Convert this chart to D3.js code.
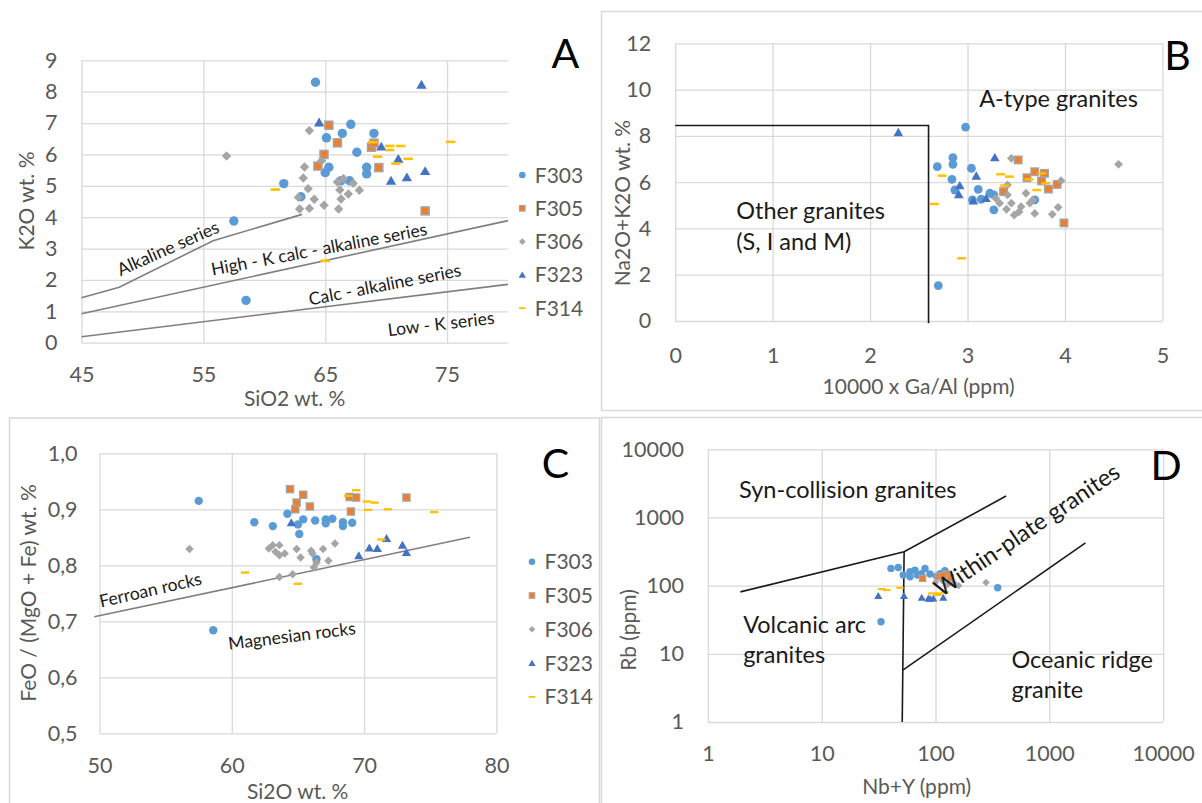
<!DOCTYPE html>
<html>
<head>
<meta charset="utf-8">
<script src="https://cdn.jsdelivr.net/npm/d3@7"></script>
<style>
  body { margin: 0; background: #fff; }
  svg { font-family: Lato, "Open Sans", sans-serif; }
</style>
</head>
<body>
<svg width="1202" height="803"></svg>
<script>
// ---- data ----
var seriesNames = ["F303", "F305", "F306", "F323", "F314"];

// A: SiO2 vs K2O
var aF303 = [[64.2,8.30],[65.1,6.53],[66.4,6.67],[67.1,6.96],[67.6,6.07],[69.0,6.67],[68.4,5.59],[68.4,5.38],
             [65.3,5.59],[65.0,5.42],[66.3,5.16],[67.0,5.16],[61.6,5.07],[63.0,4.65],[57.5,3.88],[58.5,1.35]];
var aF305 = [[65.3,6.93],[66.0,6.37],[64.9,6.00],[64.4,5.63],[68.8,6.23],[69.0,6.36],[69.4,5.58],[73.2,4.20]];
var aF306 = [[56.9,5.95],[63.7,6.76],[63.3,5.60],[63.2,5.25],[63.6,4.91],[62.8,4.63],[62.9,4.26],[63.7,4.28],
             [64.1,4.57],[64.9,4.38],[64.7,5.80],[66.0,5.12],[66.5,5.23],[66.2,4.87],[66.3,4.58],[66.1,4.26],
             [66.9,4.74],[67.3,5.08],[67.8,4.86]];
var aF323 = [[64.5,7.02],[72.9,8.22],[69.6,6.25],[71.0,5.86],[70.4,5.16],[71.7,5.27],[73.2,5.47]];
var aF314 = [[60.9,4.88],[68.9,6.39],[70.3,6.27],[71.2,6.27],[70.3,6.14],[69.3,5.93],[71.8,5.86],[70.8,5.71],
             [75.3,6.40],[65.0,2.61]];
var aAlkalineLine = [[45,1.43],[48.1,1.77],[55.8,3.25],[63.1,4.09]];
var aHighKLine = [[45,0.92],[80,3.89]];
var aLowKLine = [[45,0.19],[80,1.86]];

// B: 10000 x Ga/Al vs Na2O+K2O
var bF303 = [[2.98,8.38],[2.69,6.67],[2.85,7.06],[2.85,6.77],[2.84,6.12],[2.87,5.66],[3.04,6.60],[3.11,5.69],
             [3.05,5.23],[3.14,5.26],[3.23,5.52],[3.27,5.45],[3.27,4.80],[3.69,5.23],[2.70,1.53]];
var bF305 = [[3.52,6.96],[3.61,6.19],[3.69,6.45],[3.79,6.38],[3.76,6.05],[3.83,5.70],[3.92,5.90],[3.37,5.59],[3.99,4.24]];
var bF306 = [[3.45,7.03],[4.55,6.77],[3.96,6.06],[3.29,5.30],[3.33,5.09],[3.41,5.45],[3.41,5.88],[3.40,4.83],
             [3.45,5.09],[3.48,4.58],[3.53,4.72],[3.55,4.94],[3.60,5.52],[3.64,5.09],[3.67,5.23],[3.69,4.65],
             [3.87,4.61],[3.93,4.91]];
var bF323 = [[2.29,8.15],[3.28,7.06],[3.09,6.27],[2.92,5.85],[2.91,5.47],[3.06,5.20],[3.19,5.30]];
var bF314 = [[2.74,6.28],[2.66,5.06],[2.94,2.71],[3.34,6.34],[3.43,6.24],[3.38,5.85],[3.63,6.12],[3.71,5.66],
             [3.76,6.38],[3.80,5.95]];
var bBoundary = [[0,8.45],[2.6,8.45],[2.6,-0.1]];

// C: SiO2 vs FeO/(MgO+FeO)
var cF303 = [[57.5,0.915],[61.7,0.877],[63.1,0.870],[64.2,0.892],[65.0,0.873],[65.4,0.882],[65.1,0.856],[66.3,0.880],
             [67.1,0.882],[67.1,0.875],[67.6,0.883],[68.4,0.877],[68.4,0.870],[69.1,0.876],[66.4,0.811],[58.6,0.684]];
var cF305 = [[64.4,0.936],[65.4,0.926],[64.9,0.912],[64.8,0.900],[65.9,0.905],[68.9,0.922],[69.4,0.921],[69.0,0.896],[73.2,0.921]];
var cF306 = [[56.8,0.829],[62.8,0.830],[63.1,0.836],[63.3,0.824],[63.6,0.836],[63.6,0.818],[64.0,0.821],[64.9,0.829],
             [65.2,0.814],[66.0,0.826],[66.1,0.821],[66.9,0.829],[67.8,0.839],[67.3,0.808],[66.4,0.805],[66.2,0.796],
             [63.6,0.779],[64.6,0.784]];
var cF323 = [[64.5,0.876],[69.6,0.817],[70.4,0.831],[71.0,0.830],[71.7,0.848],[72.9,0.836],[73.2,0.823]];
var cF314 = [[61.0,0.787],[65.0,0.767],[69.4,0.934],[68.8,0.924],[70.2,0.914],[70.8,0.912],[70.3,0.899],[71.8,0.900],
             [71.3,0.846],[75.3,0.895]];
var cFerroanLine = [[49.6,0.708],[78,0.85]];

// D: Nb+Y vs Rb (log-log)
var dF303 = [[40.6,179],[47.1,185],[52.1,143],[59.7,160],[66,169],[69.2,143],[80.9,179],[89.5,148],[102,138],
             [121,166],[59.7,135],[75,150],[110,150],[33.2,29.6],[352,93]];
var dF305 = [[77,128],[106,135],[125,148],[115,140],[135,130]];
var dF306 = [[100,112],[115,118],[130,106],[145,110],[160,100],[125,102],[278,111]];
var dF323 = [[31.4,71],[52.8,71],[75.7,66.5],[86.5,65],[95.7,65],[117,66.5],[90,64]];
var dF314 = [[33.7,89],[37.3,86],[48.7,93],[92.6,77],[106,77],[121,80],[105,73]];
var dSynLine = [[1.93,81],[53,314],[417,2060]];
var dVagLine = [[53,314],[51,1]];
var dOrgLine = [[52,5.8],[2080,425]];

// ---- drawing ----
var svg = d3.select("svg");
var gridColor = "#d9d9d9", textColor = "#595959";
var tickSize = 21.5, titleSize = 21;

var markers = {
  F303: {type: "circle",   color: "#5B9BD5"},
  F305: {type: "square",   color: "#ED7D31"},
  F306: {type: "diamond",  color: "#A5A5A5"},
  F323: {type: "triangle", color: "#4472C4"},
  F314: {type: "dash",     color: "#FFC000"}
};

function addMarker(g, name, cx, cy, s) {
  var m = markers[name];
  if (m.type == "circle") {
    g.append("circle").attr("cx", cx).attr("cy", cy).attr("r", s).attr("fill", m.color);
  } else if (m.type == "square") {
    g.append("rect").attr("x", cx - s * 0.85).attr("y", cy - s * 0.85)
      .attr("width", s * 1.7).attr("height", s * 1.7)
      .attr("fill", m.color).attr("stroke", "#a5a5a5").attr("stroke-width", s * 0.32);
  } else if (m.type == "diamond") {
    var k = s * 1.0;
    g.append("path").attr("fill", m.color)
      .attr("d", "M" + cx + "," + (cy - k) + "L" + (cx + k) + "," + cy + "L" + cx + "," + (cy + k) + "L" + (cx - k) + "," + cy + "Z");
  } else if (m.type == "triangle") {
    g.append("path").attr("fill", m.color)
      .attr("d", "M" + cx + "," + (cy - 1.05 * s) + "L" + (cx + 1.1 * s) + "," + (cy + 0.85 * s) + "L" + (cx - 1.1 * s) + "," + (cy + 0.85 * s) + "Z");
  } else {
    g.append("rect").attr("x", cx - s).attr("y", cy - s * 0.28)
      .attr("width", s * 2).attr("height", s * 0.56).attr("fill", m.color);
  }
}

function drawPanel(p) {
  var g = svg.append("g");
  var x = p.x, y = p.y;
  var x0 = x.range()[0], x1 = x.range()[1], y0 = y.range()[0], y1 = y.range()[1];

  // horizontal gridlines + y tick labels
  g.append("g").attr("transform", "translate(" + x0 + ",0)")
    .call(d3.axisLeft(y).tickValues(p.yTicks).tickFormat(p.yFormat).tickSize(-(x1 - x0)).tickPadding(p.yPad))
    .call(function(s) { s.select(".domain").remove(); })
    .call(function(s) { s.selectAll("line").attr("stroke", gridColor).attr("stroke-width", 1.3); })
    .call(function(s) { s.selectAll("text").attr("fill", textColor).attr("font-size", tickSize).attr("font-family", "Lato"); });

  // vertical gridlines + x tick labels
  g.append("g").attr("transform", "translate(0," + y0 + ")")
    .call(d3.axisBottom(x).tickValues(p.xTicks).tickFormat(p.xFormat).tickSize(-(y0 - y1)).tickPadding(p.xPad))
    .call(function(s) { s.select(".domain").remove(); })
    .call(function(s) { s.selectAll("line").attr("stroke", gridColor).attr("stroke-width", 1.3); })
    .call(function(s) { s.selectAll("text").attr("fill", textColor).attr("font-size", tickSize).attr("font-family", "Lato"); });

  // boundary lines
  var line = d3.line().x(function(d) { return x(d[0]); }).y(function(d) { return y(d[1]); });
  p.lines.forEach(function(l) {
    g.append("path").datum(l).attr("d", line).attr("fill", "none")
      .attr("stroke", p.lineColor).attr("stroke-width", 1.6);
  });

  // series
  seriesNames.forEach(function(name, i) {
    var sg = g.append("g");
    p.series[i].forEach(function(d) { addMarker(sg, name, x(d[0]), y(d[1]), p.markerSize); });
  });

  // field labels
  p.labels.forEach(function(l) {
    g.append("text")
      .attr("transform", "translate(" + x(l.x) + "," + y(l.y) + ") rotate(" + (l.angle || 0) + ")")
      .attr("text-anchor", l.anchor || "middle").attr("dy", "0.35em")
      .attr("font-size", p.labelSize).attr("fill", "#1a1a1a").text(l.text);
  });

  // axis titles
  g.append("text").attr("x", p.xTitlePos[0]).attr("y", p.xTitlePos[1]).attr("dy", "0.35em")
    .attr("text-anchor", "middle").attr("font-size", titleSize).attr("fill", textColor).text(p.xTitle);
  g.append("text").attr("transform", "translate(" + p.yTitlePos[0] + "," + p.yTitlePos[1] + ") rotate(-90)")
    .attr("dy", "0.35em").attr("text-anchor", "middle").attr("font-size", titleSize).attr("fill", textColor).text(p.yTitle);

  // panel letter
  g.append("text").attr("x", p.letterPos[0]).attr("y", p.letterPos[1]).attr("text-anchor", "middle")
    .attr("font-size", 41).attr("fill", "#000").text(p.letter);

  // legend
  if (p.legend) {
    var lg = g.append("g");
    seriesNames.forEach(function(name, i) {
      var ly = p.legend.y + i * p.legend.step;
      addMarker(lg, name, p.legend.x, ly, 3.3);
      lg.append("text").attr("x", p.legend.x + 12.5).attr("y", ly).attr("dy", "0.36em")
        .attr("font-size", 21).attr("fill", textColor).text(name);
    });
  }
}

// panel frames
[[601.5, 11.5, 620, 399], [9.5, 418, 590, 400], [601.5, 417.5, 620, 400]].forEach(function(r) {
  svg.append("rect").attr("x", r[0]).attr("y", r[1]).attr("width", r[2]).attr("height", r[3])
    .attr("fill", "none").attr("stroke", gridColor).attr("stroke-width", 1.5);
});

var comma = function(d) { return d3.format(".1f")(d).replace(".", ","); };

// A
drawPanel({
  x: d3.scaleLinear().domain([45, 80]).range([81.5, 508]),
  y: d3.scaleLinear().domain([0, 9]).range([342.7, 60.3]),
  xTicks: [45, 55, 65, 75], yTicks: d3.range(0, 10),
  xFormat: d3.format("d"), yFormat: d3.format("d"), xPad: 24, yPad: 24,
  lines: [aAlkalineLine, aHighKLine, aLowKLine], lineColor: "#7f7f7f",
  series: [aF303, aF305, aF306, aF323, aF314], markerSize: 4.7,
  labelSize: 17.5,
  labels: [
    {text: "Alkaline series", x: 52.1, y: 3.01, angle: -24},
    {text: "High - K calc - alkaline series", x: 64.5, y: 2.98, angle: -10.7},
    {text: "Calc - alkaline series", x: 69.9, y: 1.85, angle: -11},
    {text: "Low - K series", x: 74.5, y: 0.60, angle: -6.7}
  ],
  xTitle: "SiO2 wt. %", xTitlePos: [294.7, 399],
  yTitle: "K2O wt. %", yTitlePos: [26.7, 201],
  letter: "A", letterPos: [565.5, 68],
  legend: {x: 522.3, y: 175, step: 33.3}
});

// B
drawPanel({
  x: d3.scaleLinear().domain([0, 5]).range([675.2, 1162.4]),
  y: d3.scaleLinear().domain([0, 12]).range([321, 43.3]),
  xTicks: d3.range(0, 6), yTicks: d3.range(0, 13, 2),
  xFormat: d3.format("d"), yFormat: d3.format("d"), xPad: 27, yPad: 24,
  lines: [bBoundary], lineColor: "#1a1a1a",
  series: [bF303, bF305, bF306, bF323, bF314], markerSize: 4.4,
  labelSize: 23.5,
  labels: [
    {text: "A-type granites", x: 3.12, y: 9.62, anchor: "start"},
    {text: "Other granites", x: 0.627, y: 4.75, anchor: "start"},
    {text: "(S, I and M)", x: 0.627, y: 3.43, anchor: "start"}
  ],
  xTitle: "10000 x Ga/Al (ppm)", xTitlePos: [918.6, 387],
  yTitle: "Na2O+K2O wt. %", yTitlePos: [623, 203],
  letter: "B", letterPos: [1177.5, 70]
});

// C
drawPanel({
  x: d3.scaleLinear().domain([50, 80]).range([99.5, 496.4]),
  y: d3.scaleLinear().domain([0.5, 1.0]).range([733.3, 453.3]),
  xTicks: [50, 60, 70, 80], yTicks: [0.5, 0.6, 0.7, 0.8, 0.9, 1.0],
  xFormat: d3.format("d"), yFormat: comma, xPad: 24, yPad: 22,
  lines: [cFerroanLine], lineColor: "#7f7f7f",
  series: [cF303, cF305, cF306, cF323, cF314], markerSize: 4.2,
  labelSize: 17.5,
  labels: [
    {text: "Ferroan rocks", x: 53.85, y: 0.756, angle: -12.8},
    {text: "Magnesian rocks", x: 64.55, y: 0.674, angle: -7}
  ],
  xTitle: "Si2O wt. %", xTitlePos: [297.7, 791.5],
  yTitle: "FeO / (MgO + Fe) wt. %", yTitlePos: [28.7, 593],
  letter: "C", letterPos: [555.5, 478],
  legend: {x: 532, y: 561.7, step: 33.8}
});

// D
drawPanel({
  x: d3.scaleLog().domain([1, 10000]).range([707.9, 1163.1]),
  y: d3.scaleLog().domain([1, 10000]).range([722, 449.3]),
  xTicks: [1, 10, 100, 1000, 10000], yTicks: [1, 10, 100, 1000, 10000],
  xFormat: d3.format("d"), yFormat: d3.format("d"), xPad: 24, yPad: 24,
  lines: [dSynLine, dVagLine, dOrgLine], lineColor: "#1a1a1a",
  series: [dF303, dF305, dF306, dF323, dF314], markerSize: 3.7,
  labelSize: 23.5,
  labels: [
    {text: "Syn-collision granites", x: 1.88, y: 2583, anchor: "start"},
    {text: "Within-plate granites", x: 635, y: 654, angle: -34},
    {text: "Volcanic arc", x: 2.04, y: 26.4, anchor: "start"},
    {text: "granites", x: 2.04, y: 9.6, anchor: "start"},
    {text: "Oceanic ridge", x: 465, y: 8.1, anchor: "start"},
    {text: "granite", x: 465, y: 3.0, anchor: "start"}
  ],
  xTitle: "Nb+Y (ppm)", xTitlePos: [916.7, 786.5],
  yTitle: "Rb (ppm)", yTitlePos: [628.8, 630],
  letter: "D", letterPos: [1166, 480]
});
</script>
</body>
</html>
